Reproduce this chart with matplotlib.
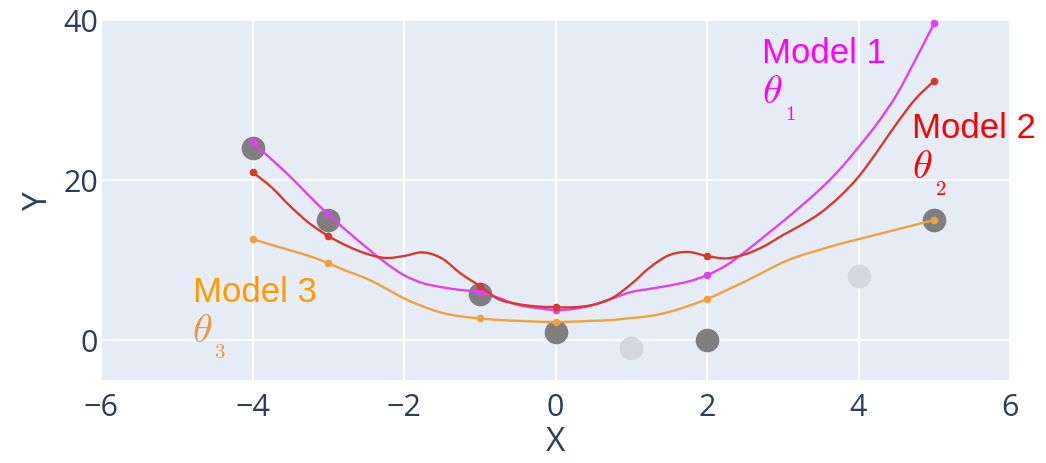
import numpy as np
import matplotlib.pyplot as plt
from matplotlib.path import Path
from matplotlib.patches import PathPatch

# Observed points used for fitting (dark) and held-out points (light)
x_train = [-4, -3, -1, 0, 2, 5]
y_train = [24, 15, 5.8, 1, 0, 15]
x_test = [1, 4]
y_test = [-1, 8]

# Model predictions sampled along x
x_curve = np.arange(-4, 5.01, 0.25)
model1_y = [24.7, 22.6, 20.4, 18.0, 15.7, 13.6, 11.6, 9.7, 8.1, 7.1, 6.6, 6.25,
            6.0, 5.25, 4.4, 4.0, 3.75, 3.9, 4.4, 5.2, 6.0, 6.4, 6.8, 7.3,
            8.1, 9.3, 11.0, 12.9, 14.8, 16.8, 18.9, 21.3, 24.1, 27.1, 30.6, 35.0, 39.6]
model2_y = [21.0, 19.1, 16.7, 14.6, 13.0, 11.75, 10.8, 10.25, 10.5, 10.95, 10.2, 8.3,
            6.75, 5.1, 4.5, 4.2, 4.1, 4.1, 4.4, 5.25, 7.0, 9.1, 10.6, 11.0,
            10.5, 10.2, 10.7, 11.7, 13.1, 14.4, 15.9, 17.9, 20.4, 23.6, 27.0, 30.1, 32.4]
model3_y = [12.6, 11.9, 11.2, 10.5, 9.6, 8.6, 7.7, 6.5, 5.2, 4.2, 3.4, 2.95,
            2.7, 2.5, 2.4, 2.3, 2.25, 2.3, 2.4, 2.5, 2.75, 3.0, 3.5, 4.25,
            5.1, 6.2, 7.3, 8.5, 9.7, 10.6, 11.3, 12.0, 12.6, 13.2, 13.8, 14.4, 15.0]

model_names = ["Model 1", "Model 2", "Model 3"]
line_colors = ["#e23ff0", "#d9392c", "#efa23c"]
text_colors = ["#ff00ff", "#ff0000", "#ff9900"]
theta_colors = ["#ff00ff", "#ff0000", "#ea9a3e"]
label_pos = [(2.73, 34.75), (4.71, 25.4), (-4.79, 4.9)]
theta_pos = [(2.73, 29.75), (4.71, 20.35), (-4.8, -0.1)]
sub_labels = ["1", "2", "3"]

grey = "#7f7f7f"
grey_light = "#d3d7de"
bg = "#e5ecf6"
axis_text = "#2a3f5f"


def spline_path(xs, ys):
    # Catmull-Rom curve through the samples, drawn as cubic Bezier segments
    pts = np.column_stack([xs, ys])
    ext = np.vstack([pts[0], pts, pts[-1]])
    verts = [pts[0]]
    codes = [Path.MOVETO]
    for i in range(1, len(ext) - 2):
        p0, p1, p2, p3 = ext[i - 1], ext[i], ext[i + 1], ext[i + 2]
        verts += [p1 + (p2 - p0) / 6, p2 - (p3 - p1) / 6, p2]
        codes += [Path.CURVE4] * 3
    return Path(verts, codes)


fig = plt.figure(figsize=(10.46, 4.64), dpi=100)
ax = fig.add_axes([101 / 1046, 1 - 381 / 464, 909 / 1046, 360 / 464])
ax.set_facecolor(bg)
for s in ax.spines.values():
    s.set_visible(False)

ax.set_xlim(-6, 6)
ax.set_ylim(-5, 40)
ax.set_xticks([-6, -4, -2, 0, 2, 4, 6])
ax.set_yticks([0, 20, 40])
ax.set_xticklabels(["\u22126", "\u22124", "\u22122", "0", "2", "4", "6"])
ax.grid(True, color="white", lw=1.4)
ax.set_axisbelow(True)
ax.tick_params(length=0, labelsize=22, labelcolor=axis_text)
ax.tick_params(axis="x", pad=9)
ax.tick_params(axis="y", pad=2)
for lab in ax.get_xticklabels() + ax.get_yticklabels():
    lab.set_family("Open Sans")

ax.set_xlabel("X", fontsize=24, color=axis_text, family="Open Sans", labelpad=2)
ax.set_ylabel("Y", fontsize=24, color=axis_text, family="Open Sans", labelpad=6)

ax.plot(x_train, y_train, "o", ms=16, color=grey, zorder=3)
ax.plot(x_test, y_test, "o", ms=16, color=grey_light, zorder=3)

mark = np.isin(x_curve, x_train)
for ys, lc in zip([model1_y, model2_y, model3_y], line_colors):
    ys = np.array(ys)
    ax.add_patch(PathPatch(spline_path(x_curve, ys), fill=False, edgecolor=lc,
                           lw=1.7, zorder=4))
    ax.plot(x_curve[mark], ys[mark], "o", ms=4.5, color=lc, zorder=5)

plt.rcParams["mathtext.fontset"] = "cm"
for name, tc, thc, (lx, ly), (tx, ty), sub in zip(model_names, text_colors, theta_colors,
                                                   label_pos, theta_pos, sub_labels):
    ax.text(lx, ly, name, color=tc, fontsize=25, family="Liberation Sans",
            ha="left", va="baseline", clip_on=False, zorder=6)
    ax.text(tx, ty, r"$\theta$", color=thc, fontsize=29, ha="left", va="baseline",
            clip_on=False, zorder=6)
    ax.annotate(r"$\mathit{" + sub + "}$", (tx, ty), xytext=(16, -12),
                textcoords="offset points", color=thc, fontsize=15,
                ha="left", va="baseline", annotation_clip=False, zorder=6)

fig.savefig("out.png", dpi=100, facecolor="white")
